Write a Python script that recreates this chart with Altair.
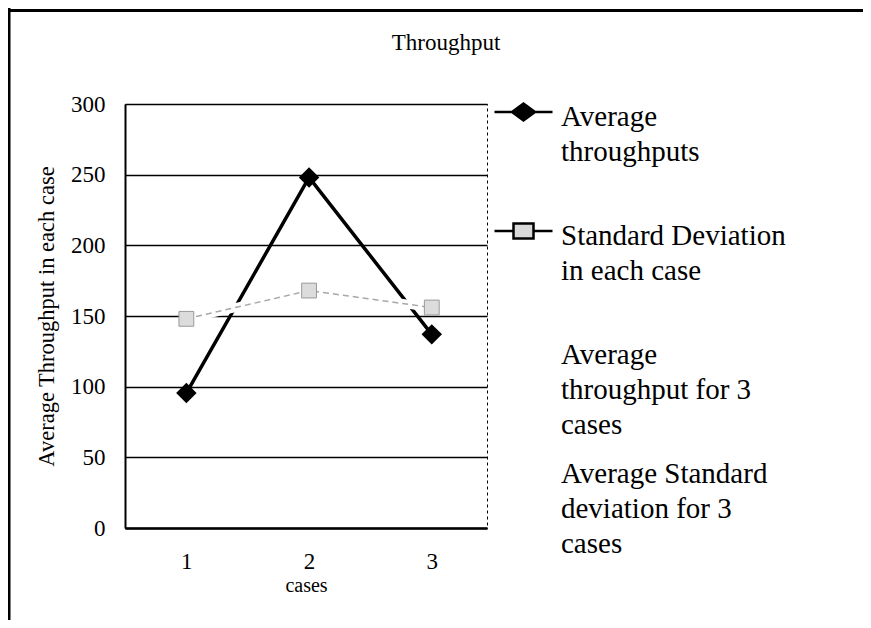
import altair as alt
import pandas as pd

# ---- data ----
cases = [1, 2, 3]
avg_throughput = [95.5, 248, 137]
std_dev = [148, 168, 156]
series = [
    "Average\nthroughputs",
    "Standard Deviation\nin each case",
    "Average\nthroughput for 3\ncases",
    "Average Standard\ndeviation for 3\ncases",
]
y_ticks = [0, 50, 100, 150, 200, 250, 300]
chart_title = "Throughput"
x_title = "cases"
y_title = "Average Throughput in each case"

FONT = "Liberation Serif"

long_df = pd.DataFrame(
    {
        "case": cases + cases,
        "value": avg_throughput + std_dev,
        "metric": ["avg"] * len(cases) + ["std"] * len(cases),
    }
)
legend_df = pd.DataFrame({"series": series})
frame_df = pd.DataFrame({"k": [0]})

# legend symbol paths (line + marker), entries 3/4 have no symbol
sym_avg = "M-2.9,0.9H2.9 M-1.15,0.9L0,0.05L1.15,0.9L0,1.75Z"
sym_std = "M-2.9,0.9H-1 M1,0.9H2.9 M-1,0.15H1V1.65H-1Z"
sym_none = "M0,0L0,0"

x_enc = alt.X(
    "case:Q",
    scale=alt.Scale(domain=[0.5, 3.45], nice=False, zero=False),
    axis=alt.Axis(
        values=cases, format="d", title=x_title, grid=False, ticks=False,
        labelPadding=22, titlePadding=2, domainColor="black", domainWidth=2.5,
        labelFont=FONT, labelFontSize=23, labelColor="black",
        titleFont=FONT, titleFontSize=20, titleFontWeight="normal", titleColor="black",
    ),
)
y_enc = alt.Y(
    "value:Q",
    scale=alt.Scale(domain=[0, 300], nice=False),
    axis=alt.Axis(
        values=y_ticks, title=y_title, grid=True, gridColor="black", gridWidth=1.4,
        ticks=False, labelPadding=20, titlePadding=12, domainColor="black", domainWidth=2,
        labelFont=FONT, labelFontSize=23, labelColor="black",
        titleFont=FONT, titleFontSize=22.5, titleFontWeight="normal", titleColor="black",
    ),
)

base = alt.Chart(long_df).encode(x=x_enc, y=y_enc)

avg_line = base.transform_filter(alt.datum.metric == "avg").mark_line(color="black", strokeWidth=3.5)
std_halo = base.transform_filter(alt.datum.metric == "std").mark_line(color="white", strokeWidth=9)
std_line = base.transform_filter(alt.datum.metric == "std").mark_line(
    color="#a8a8a8", strokeWidth=1.5, strokeDash=[6, 4]
)
std_pts = base.transform_filter(alt.datum.metric == "std").mark_point(
    shape="square", filled=True, fill="#dcdcdc", stroke="#9a9a9a", strokeWidth=1, size=220, opacity=1
)
avg_pts = base.transform_filter(alt.datum.metric == "avg").mark_point(
    shape="diamond", filled=True, color="black", size=420, opacity=1
)

leg = alt.Legend(
    title=None, orient="none", legendX=384, legendY=-15.5,
    labelFont=FONT, labelFontSize=29, labelColor="black", labelBaseline="top",
    labelLimit=400, labelOffset=23, labelExpr="split(datum.label, '\\n')",
    symbolSize=400, symbolStrokeWidth=2.5, symbolOpacity=1,
    rowPadding=5, gridAlign="all", padding=0,
)
legend_layer = alt.Chart(legend_df).mark_point(filled=True, opacity=0).encode(
    shape=alt.Shape("series:N", scale=alt.Scale(domain=series, range=[sym_avg, sym_std, sym_none, sym_none]), legend=leg),
    fill=alt.Fill("series:N", scale=alt.Scale(domain=series, range=["black", "#d9d9d9", "transparent", "transparent"]), legend=leg),
    stroke=alt.Stroke("series:N", scale=alt.Scale(domain=series, range=["black", "black", "transparent", "transparent"]), legend=leg),
)

frame_v = alt.Chart(frame_df).mark_rule(color="black", strokeWidth=3).encode(
    x=alt.value(-116), y=alt.value(-96), y2=alt.value(520)
)
frame_h = alt.Chart(frame_df).mark_rule(color="black", strokeWidth=3).encode(
    x=alt.value(-117), x2=alt.value(750), y=alt.value(-93.5)
)

chart = (
    alt.layer(avg_line, std_halo, std_line, std_pts, avg_pts, legend_layer, frame_v, frame_h)
    .properties(
        width=362,
        height=424,
        title=alt.TitleParams(
            text=chart_title, font=FONT, fontSize=23, fontWeight="normal", color="black",
            anchor="middle", dx=140, dy=66.5, offset=0, baseline="alphabetic",
        ),
        padding={"left": 117, "top": 96, "right": 376, "bottom": 92},
        autosize=alt.AutoSizeParams(type="none"),
        background="white",
    )
    .configure(style={"guide-label": {"lineHeight": 35}})
    .configure_view(stroke="black", strokeDash=[3, 3], strokeWidth=1)
)

chart.save("out.html", embed_options={"renderer": "svg", "actions": False})
